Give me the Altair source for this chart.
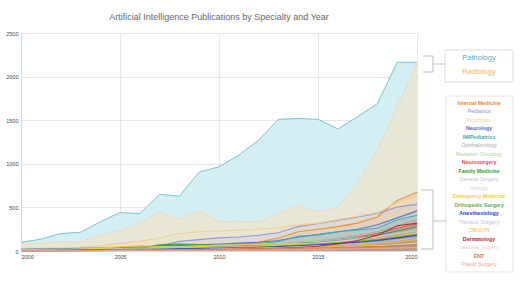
import altair as alt
import pandas as pd

years = list(range(2000, 2021))

pathology = [100, 135, 200, 215, 335, 440, 430, 650, 630, 905, 965, 1100, 1270, 1510, 1520, 1510, 1400, 1540, 1690, 2165, 2165]
radiology = [80, 90, 105, 100, 180, 230, 315, 450, 365, 460, 335, 335, 335, 430, 520, 450, 505, 775, 1155, 1650, 2150]

specialties = ["Internal Medicine", "Pediatrics", "Psychiatry", "Neurology", "IM/Pediatrics",
               "Ophthalmology", "Radiation Oncology", "Neurosurgery", "Family Medicine", "General Surgery",
               "Urology", "Emergency Medicine", "Orthopedic Surgery", "Anesthesiology", "Thoracic Surgery",
               "OB/GYN", "Dermatology", "Vascular Surgery", "ENT", "Plastic Surgery"]

colors = ["#f0862a", "#8c8ce6", "#f2cc8f", "#4a6fd4", "#2bb3b8",
          "#a8a8a8", "#a9d3a9", "#e84a4a", "#2ca02c", "#b9c2d4",
          "#e3c9d2", "#f2d21a", "#5aaa5a", "#2040c8", "#c4bcdc",
          "#f4bd2e", "#c02424", "#d6d6d6", "#d27a32", "#f2a0a0"]

bold = [True, False, False, True, True, False, False, True, True, False,
        False, True, True, True, False, False, True, False, True, False]

series = {
    "Internal Medicine":  [10, 12, 15, 18, 20, 25, 30, 40, 50, 60, 70, 80, 100, 150, 220, 250, 280, 320, 390, 580, 675],
    "Pediatrics":         [5, 8, 10, 15, 20, 30, 40, 60, 110, 130, 150, 160, 180, 210, 280, 315, 350, 390, 430, 505, 535],
    "Psychiatry":         [30, 35, 40, 45, 60, 90, 110, 150, 200, 220, 230, 240, 250, 270, 300, 320, 360, 400, 440, 560, 635],
    "Neurology":          [20, 25, 25, 30, 35, 40, 45, 55, 65, 70, 80, 90, 100, 120, 160, 190, 220, 250, 300, 380, 460],
    "IM/Pediatrics":      [10, 10, 15, 15, 20, 25, 30, 40, 50, 60, 70, 75, 85, 110, 170, 185, 220, 240, 260, 355, 410],
    "Ophthalmology":      [5, 8, 10, 12, 15, 20, 25, 30, 40, 45, 50, 60, 70, 80, 100, 120, 150, 180, 220, 290, 360],
    "Radiation Oncology": [15, 20, 20, 25, 30, 35, 40, 50, 55, 60, 65, 70, 80, 90, 110, 130, 150, 170, 210, 270, 330],
    "Neurosurgery":       [5, 5, 8, 10, 20, 40, 45, 60, 70, 50, 40, 45, 50, 60, 80, 100, 130, 160, 200, 260, 310],
    "Family Medicine":    [5, 5, 8, 10, 15, 20, 30, 70, 80, 75, 60, 65, 70, 80, 95, 105, 130, 150, 180, 230, 280],
    "General Surgery":    [10, 12, 15, 20, 25, 30, 35, 40, 50, 60, 65, 70, 75, 85, 100, 110, 130, 150, 170, 210, 250],
    "Urology":            [5, 6, 8, 10, 12, 15, 20, 25, 30, 35, 40, 45, 55, 65, 80, 95, 110, 130, 160, 200, 230],
    "Emergency Medicine": [0, 5, 10, 20, 30, 50, 60, 50, 40, 50, 60, 70, 75, 80, 85, 70, 90, 110, 140, 170, 210],
    "Orthopedic Surgery": [2, 4, 6, 8, 10, 12, 15, 20, 25, 30, 35, 40, 45, 55, 65, 80, 95, 110, 130, 160, 190],
    "Anesthesiology":     [5, 5, 8, 10, 12, 15, 18, 20, 25, 28, 30, 35, 40, 50, 60, 70, 85, 100, 120, 150, 180],
    "Thoracic Surgery":   [3, 4, 5, 6, 8, 10, 12, 15, 18, 20, 25, 30, 35, 40, 50, 60, 70, 85, 100, 125, 150],
    "OB/GYN":             [2, 3, 4, 5, 6, 8, 10, 12, 15, 18, 20, 25, 30, 35, 40, 45, 55, 70, 85, 105, 130],
    "Dermatology":        [1, 2, 3, 4, 5, 6, 8, 10, 12, 15, 18, 20, 25, 30, 40, 55, 80, 120, 180, 290, 320],
    "Vascular Surgery":   [1, 2, 3, 4, 5, 6, 7, 8, 10, 12, 15, 18, 20, 25, 30, 35, 40, 50, 60, 75, 90],
    "ENT":                [2, 3, 4, 5, 6, 8, 10, 12, 15, 15, 18, 20, 22, 25, 30, 35, 40, 45, 50, 60, 70],
    "Plastic Surgery":    [1, 1, 2, 2, 3, 4, 5, 6, 7, 8, 9, 10, 12, 14, 16, 18, 22, 26, 30, 35, 40],
}

top_df = pd.DataFrame({"year": years, "Pathology": pathology, "Radiology": radiology})
rows = []
for name in specialties:
    for y, v in zip(years, series[name]):
        rows.append({"year": y, "specialty": name, "value": v})
low_df = pd.DataFrame(rows)

W, H = 396, 218

x_enc = alt.X("year:Q", scale=alt.Scale(domain=[2000, 2020], nice=False),
              axis=alt.Axis(values=[2000, 2005, 2010, 2015, 2020], format="d", title=None,
                            ticks=False, labelFontSize=5.5, labelColor="#444", labelPadding=3,
                            grid=True, gridColor="#e6e6e6", domainColor="#dcdcdc",
                            labelFont="Liberation Sans"))
y_scale = alt.Scale(domain=[0, 2500], nice=False)
y_axis = alt.Axis(values=[0, 500, 1000, 1500, 2000, 2500], format="d", title=None, ticks=False,
                  labelFontSize=5.5, labelColor="#444", labelPadding=3, grid=True,
                  gridColor="#e6e6e6", domainColor="#dcdcdc", labelFont="Liberation Sans")

base_top = alt.Chart(top_df)
path_area = base_top.mark_area(color="#d4eff4", opacity=1, line={"color": "#78c4d0", "strokeWidth": 1}).encode(
    x=x_enc, y=alt.Y("Pathology:Q", scale=y_scale, axis=y_axis))
rad_area = base_top.mark_area(color="#efe4cb", opacity=0.75, line={"color": "#f0d9b8", "strokeWidth": 1}).encode(
    x="year:Q", y=alt.Y("Radiology:Q", scale=y_scale))

color_scale = alt.Scale(domain=specialties, range=colors)
low_base = alt.Chart(low_df)
low_area = low_base.mark_area(opacity=0.1).encode(
    x="year:Q", y=alt.Y("value:Q", scale=y_scale, stack=None),
    color=alt.Color("specialty:N", scale=color_scale, legend=None))
low_line = low_base.mark_line(strokeWidth=1.1, opacity=0.9).encode(
    x="year:Q", y=alt.Y("value:Q", scale=y_scale),
    color=alt.Color("specialty:N", scale=color_scale, legend=None))

# decorations (legend boxes and brackets), positioned in pixels relative to plot origin
deco = alt.Chart(pd.DataFrame({"d": [0]}))
box1 = deco.mark_rect(fill="white", stroke="#dedede", strokeWidth=1).encode(
    x=alt.value(424), x2=alt.value(492), y=alt.value(17), y2=alt.value(49))
box2 = deco.mark_rect(fill="white", stroke="#e2e2e2", strokeWidth=1).encode(
    x=alt.value(425), x2=alt.value(492), y=alt.value(63), y2=alt.value(239))

bc = "#bdbdbd"
def hrule(x1, x2, y):
    return deco.mark_rule(color=bc, strokeWidth=1).encode(x=alt.value(x1), x2=alt.value(x2), y=alt.value(y))
def vrule(x, y1, y2):
    return deco.mark_rule(color=bc, strokeWidth=1).encode(x=alt.value(x), y=alt.value(y1), y2=alt.value(y2))

brackets = [hrule(402, 412, 23), vrule(412, 23, 39), hrule(402, 412, 39), hrule(412, 424, 31),
            hrule(400, 412, 157), vrule(412, 157, 216), hrule(400, 412, 216), hrule(412, 425, 188)]

texts = [
    deco.mark_text(text="Pathology", fontSize=7.5, color="#4fb2c2", font="Liberation Sans").encode(
        x=alt.value(458), y=alt.value(25)),
    deco.mark_text(text="Radiology", fontSize=7.5, color="#f0b07a", font="Liberation Sans").encode(
        x=alt.value(458), y=alt.value(38.5)),
]
for i, (name, c, b) in enumerate(zip(specialties, colors, bold)):
    texts.append(deco.mark_text(text=name, fontSize=5.3, color=c, font="Liberation Sans",
                                fontWeight="bold" if b else "normal").encode(
        x=alt.value(458), y=alt.value(69.5 + 8.5 * i)))

chart = alt.layer(path_area, rad_area, low_area, low_line, box1, box2, *brackets, *texts).properties(
    width=W, height=H,
    title=alt.TitleParams("Artificial Intelligence Publications by Specialty and Year", fontSize=9,
                          color="#666", fontWeight="normal", font="Liberation Sans",
                          anchor="middle", offset=9),
    autosize=alt.AutoSizeParams(type="none"),
    padding={"left": 21, "top": 33, "right": 108, "bottom": 30},
).configure_view(stroke=None).configure(background="white")

chart.save("out.html", embed_options={"renderer": "svg", "actions": False})
